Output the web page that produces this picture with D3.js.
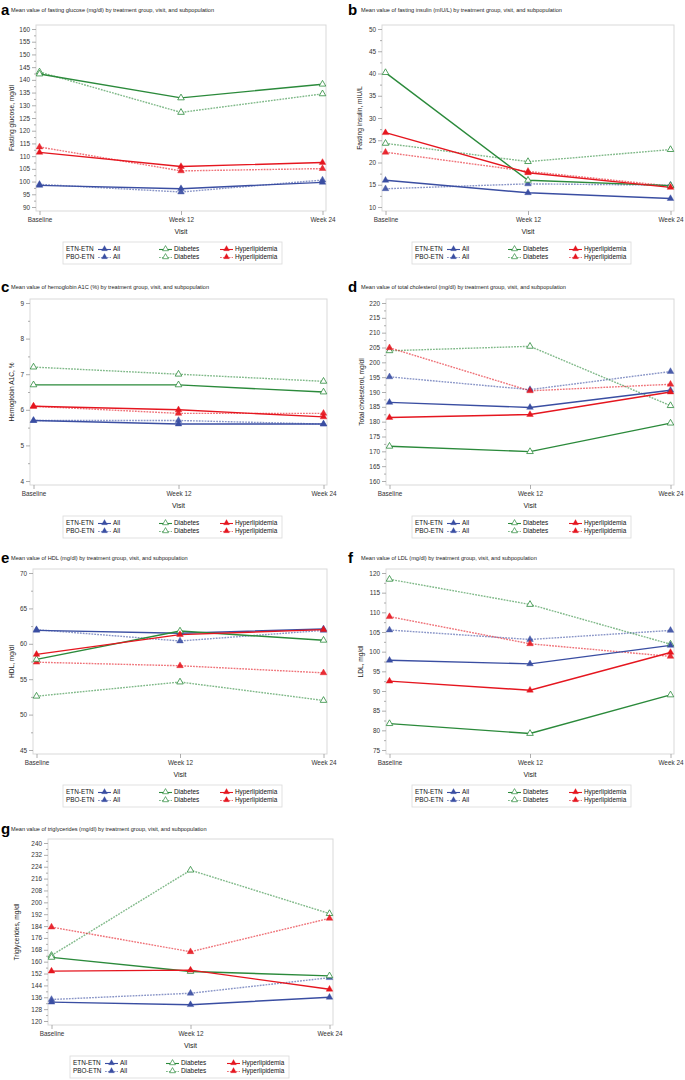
<!DOCTYPE html>
<html><head><meta charset="utf-8">
<script src="https://cdn.jsdelivr.net/npm/d3@7"></script>
<style>
html,body{margin:0;padding:0;background:#fff;}
svg{display:block;font-family:"Liberation Sans",Arial,sans-serif;}
</style></head>
<body>
<svg id="c" width="685" height="1080"></svg>
<script>
// ---------- data ----------
const visits = ["Baseline", "Week 12", "Week 24"];
const subpops = ["All", "Diabetes", "Hyperlipidemia"];
const groups = ["ETN-ETN", "PBO-ETN"];
const letters = ["a", "b", "c", "d", "e", "f", "g"];
const titles = [
  "Mean value of fasting glucose (mg/dl) by treatment group, visit, and subpopulation",
  "Mean value of fasting insulin (mIU/L) by treatment group, visit, and subpopulation",
  "Mean value of hemoglobin A1C (%) by treatment group, visit, and subpopulation",
  "Mean value of total cholesterol (mg/dl) by treatment group, visit, and subpopulation",
  "Mean value of HDL (mg/dl) by treatment group, visit, and subpopulation",
  "Mean value of LDL (mg/dl) by treatment group, visit, and subpopulation",
  "Mean value of triglycerides (mg/dl) by treatment group, visit, and subpopulation"
];
const yTitles = ["Fasting glucose, mg/dl", "Fasting insulin, mIU/L", "Hemoglobin A1C, %",
  "Total cholesterol, mg/dl", "HDL, mg/dl", "LDL, mg/dl", "Triglycerides, mg/dl"];
const yDomains = [[90, 160], [10, 50], [4, 9], [160, 220], [45, 70], [75, 120], [120, 240]];
const yMajorSteps = [5, 5, 1, 5, 5, 5, 8];

// rows: All, Diabetes, Hyperlipidemia ; columns: Baseline, Week 12, Week 24
const glucoseETN = [[98.5, 97.2, 99.7], [142.3, 132.9, 138.3], [111.5, 105.9, 107.5]];
const glucosePBO = [[98.9, 95.9, 100.6], [143.1, 127.2, 134.5], [113.6, 104.2, 105.1]];
const insulinETN = [[16.0, 13.2, 11.9], [40.2, 16.0, 14.8], [26.7, 17.7, 14.4]];
const insulinPBO = [[14.1, 15.2, 14.9], [24.3, 20.2, 22.9], [22.3, 18.0, 14.7]];
const a1cETN = [[5.7, 5.6, 5.6], [6.7, 6.7, 6.5], [6.1, 6.0, 5.8]];
const a1cPBO = [[5.7, 5.7, 5.6], [7.2, 7.0, 6.8], [6.1, 5.9, 5.9]];
const cholETN = [[186.5, 184.8, 190.6], [171.7, 169.9, 179.5], [181.4, 182.4, 190.0]];
const cholPBO = [[195.1, 190.8, 196.9], [203.9, 205.4, 185.4], [204.9, 190.4, 192.6]];
const hdlETN = [[61.9, 61.5, 62.1], [57.8, 61.8, 60.5], [58.5, 61.3, 62.0]];
const hdlPBO = [[62.0, 60.4, 61.9], [52.6, 54.6, 52.0], [57.4, 56.9, 55.9]];
const ldlETN = [[97.8, 96.9, 101.6], [81.7, 79.2, 89.0], [92.5, 90.2, 99.8]];
const ldlPBO = [[105.5, 103.1, 105.4], [118.4, 112.0, 101.9], [108.9, 102.0, 98.8]];
const tgETN = [[132.7, 131.0, 136.0], [162.9, 153.4, 150.4], [153.6, 154.3, 141.4]];
const tgPBO = [[134.5, 138.7, 149.2], [164.2, 221.7, 192.4], [183.3, 166.7, 189.2]];

const panelData = [
  [glucoseETN, glucosePBO], [insulinETN, insulinPBO], [a1cETN, a1cPBO],
  [cholETN, cholPBO], [hdlETN, hdlPBO], [ldlETN, ldlPBO], [tgETN, tgPBO]
];

// ---------- layout (not data) ----------
const frames = [
  {x0: 36, x1: 326, y0: 25, y1: 211, yt: 12, lg: 63, ty: 10},
  {x0: 382, x1: 674, y0: 25, y1: 211, yt: 360, lg: 412, ty: 10},
  {x0: 30, x1: 327, y0: 299, y1: 485, yt: 12, lg: 63, ty: 287},
  {x0: 386, x1: 674, y0: 299, y1: 485, yt: 362, lg: 412, ty: 287},
  {x0: 33, x1: 327, y0: 569, y1: 754, yt: 12, lg: 63, ty: 558},
  {x0: 386, x1: 674, y0: 569, y1: 754, yt: 361, lg: 412, ty: 558},
  {x0: 48, x1: 333, y0: 839, y1: 1025, yt: 17, lg: 70, ty: 829}
];
const colors = {"All": "#3a4ea2", "Diabetes": "#2b8a3b", "Hyperlipidemia": "#e5161f"};

const svg = d3.select("#c");
const tri = d3.symbol().type(d3.symbolTriangle).size(19);
const triLeg = d3.symbol().type(d3.symbolTriangle).size(15);

function decimals(step){ return step < 1 ? 1 : 0; }

panelData.forEach((pd, i) => {
  const f = frames[i];
  const panelX = f.x0 < 340 ? 0 : 340;
  const g = svg.append("g");

  // letter + title
  g.append("text").attr("x", panelX + (panelX ? 8 : 1)).attr("y", f.ty + 5)
    .attr("font-size", 15).attr("font-weight", "bold").attr("fill", "#000").text(letters[i]);
  g.append("text").attr("x", panelX + (panelX ? 21 : 11)).attr("y", f.ty + 2)
    .attr("font-size", 5.6).attr("fill", "#222").text(titles[i]);

  // frame
  g.append("rect").attr("x", f.x0).attr("y", f.y0).attr("width", f.x1 - f.x0).attr("height", f.y1 - f.y0)
    .attr("fill", "#fff").attr("stroke", "#d9d9d9").attr("stroke-width", 1);

  const [lo, hi] = yDomains[i];
  const st = yMajorSteps[i];
  const y = d3.scaleLinear().domain([lo, hi]).range([f.y1 - 4, f.y0 + 4]);
  const x = d3.scalePoint().domain(visits).range([f.x0 + 3.5, f.x1 - 3.5]);

  const majors = d3.range(lo, hi + st / 2, st);
  const minors = d3.range(lo + st / 2, hi, st);

  const ya = g.append("g").attr("transform", `translate(${f.x0},0)`)
    .call(d3.axisLeft(y).tickValues(majors).tickSize(4).tickPadding(2)
      .tickFormat(d3.format("." + decimals(st) + "f")));
  const ym = g.append("g").attr("transform", `translate(${f.x0},0)`)
    .call(d3.axisLeft(y).tickValues(minors).tickSize(2).tickFormat(""));
  const xa = g.append("g").attr("transform", `translate(0,${f.y1})`)
    .call(d3.axisBottom(x).tickSize(4).tickPadding(2));
  [ya, ym, xa].forEach(a => {
    a.select(".domain").remove();
    a.selectAll("line").attr("stroke", "#999").attr("stroke-width", 0.8);
    a.selectAll("text").attr("font-size", 6.4).attr("fill", "#333")
      .attr("font-family", "Liberation Sans, Arial, sans-serif");
  });
  ya.selectAll("text").text(d => (st < 1 ? d3.format(".0f")(d) : d));

  // axis titles
  g.append("text").attr("transform", `translate(${f.yt},${(f.y0 + f.y1) / 2}) rotate(-90)`)
    .attr("text-anchor", "middle").attr("dominant-baseline", "middle")
    .attr("font-size", 6.6).attr("fill", "#222").text(yTitles[i]);
  g.append("text").attr("x", (f.x0 + f.x1) / 2).attr("y", f.y1 + 23)
    .attr("text-anchor", "middle").attr("font-size", 7).attr("fill", "#222").text("Visit");

  // lines
  const line = d3.line().x((d, k) => x(visits[k])).y(d => y(d));
  [1, 0].forEach(gi => {
    pd[gi].forEach((vals, si) => {
      const c = colors[subpops[si]];
      g.append("path").datum(vals).attr("d", line).attr("fill", "none")
        .attr("stroke", c).attr("stroke-width", 1.4)
        .attr("stroke-opacity", gi ? 0.6 : 1)
        .attr("stroke-dasharray", gi ? "1.8,1.1" : null);
    });
  });
  [1, 0].forEach(gi => {
    pd[gi].forEach((vals, si) => {
      const c = colors[subpops[si]];
      const open = subpops[si] === "Diabetes";
      g.selectAll(null).data(vals).enter().append("path")
        .attr("d", tri).attr("transform", (d, k) => `translate(${x(visits[k])},${y(d)})`)
        .attr("fill", open ? "#fff" : c).attr("stroke", c)
        .attr("stroke-width", open ? 0.8 : 0.4)
        .attr("fill-opacity", open ? 1 : (gi ? 0.9 : 1));
    });
  });

  // legend
  const lx = f.lg, ly = f.y1 + 31;
  const lg = g.append("g").attr("transform", `translate(${lx},${ly})`);
  lg.append("rect").attr("width", 219).attr("height", 22).attr("fill", "#fff")
    .attr("stroke", "#d9d9d9").attr("stroke-width", 0.8);
  const sampleX = [35, 96, 157];
  groups.forEach((gname, gi) => {
    const ry = 7.5 + gi * 8;
    lg.append("text").attr("x", 3).attr("y", ry).attr("dominant-baseline", "middle")
      .attr("font-size", 6.4).attr("fill", "#111").text(gname);
    subpops.forEach((sp, si) => {
      const c = colors[sp];
      const sx = sampleX[si];
      lg.append("line").attr("x1", sx).attr("x2", sx + 13).attr("y1", ry).attr("y2", ry)
        .attr("stroke", c).attr("stroke-width", 1.1)
        .attr("stroke-opacity", gi ? 0.6 : 1)
        .attr("stroke-dasharray", gi ? "1.8,1.1" : null);
      const open = sp === "Diabetes";
      lg.append("path").attr("d", triLeg).attr("transform", `translate(${sx + 6.5},${ry - 0.5})`)
        .attr("fill", open ? "#fff" : c).attr("stroke", c).attr("stroke-width", open ? 0.7 : 0.3);
      lg.append("text").attr("x", sx + 15).attr("y", ry).attr("dominant-baseline", "middle")
        .attr("font-size", 6.4).attr("fill", "#111").text(sp);
    });
  });
});
</script>
</body></html>
